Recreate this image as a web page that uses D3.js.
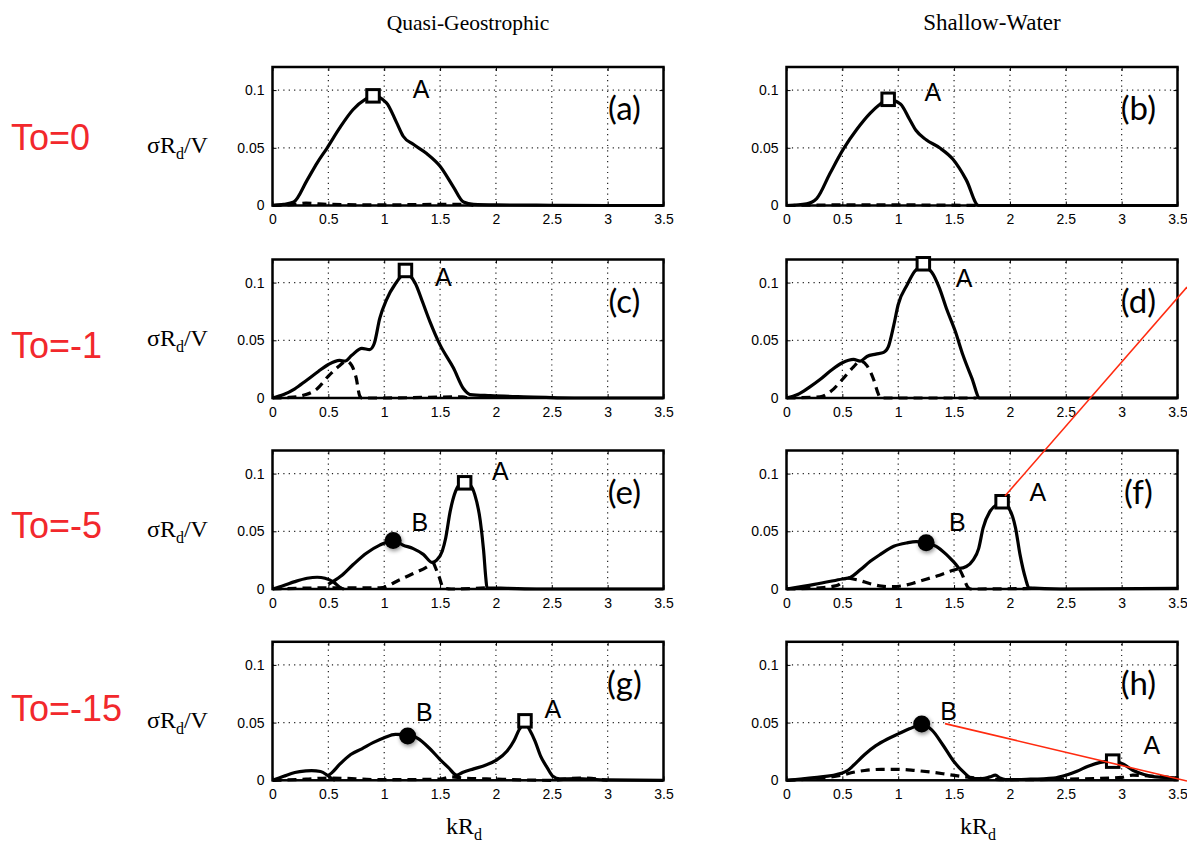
<!DOCTYPE html>
<html><head><meta charset="utf-8">
<script src="https://cdn.jsdelivr.net/npm/d3@7"></script>
<style>body{margin:0;background:#fff}svg{display:block}</style>
</head><body><svg id="c" width="1187" height="851"></svg>
<script>
// ---------- data ----------
const kTicks = [0, 0.5, 1, 1.5, 2, 2.5, 3, 3.5];
const kTickLabels = ["0", "0.5", "1", "1.5", "2", "2.5", "3", "3.5"];
const sigmaTicks = [0, 0.05, 0.1];
const sigmaTickLabels = ["0", "0.05", "0.1"];
const columnTitles = ["Quasi-Geostrophic", "Shallow-Water"];
const rowLabels = ["To=0", "To=-1", "To=-5", "To=-15"];
const panelLetters = ["(a)", "(b)", "(c)", "(d)", "(e)", "(f)", "(g)", "(h)"];

const solid_a = [[0,0],[0.1,0.001],[0.19,0.003],[0.31,0.022],[0.4,0.037],[0.49,0.05],[0.6,0.067],[0.72,0.083],[0.83,0.092],[0.9,0.095],[1.02,0.089],[1.11,0.072],[1.17,0.06],[1.26,0.053],[1.38,0.045],[1.5,0.034],[1.62,0.016],[1.71,0.003],[1.8,0.001],[2.0,0.0005],[2.5,0.0002],[3.0,0],[3.5,0]];
const dashed_a = [[0,0],[0.2,0.001],[0.3,0.002],[0.5,0.001],[1.0,0.0005],[1.5,0.001],[1.75,0.001],[1.8,0]];
const solid_b = [[0,0],[0.18,0.0015],[0.27,0.006],[0.39,0.028],[0.51,0.049],[0.63,0.066],[0.75,0.08],[0.84,0.088],[0.91,0.092],[1.02,0.088],[1.1,0.075],[1.16,0.065],[1.25,0.057],[1.37,0.05],[1.49,0.04],[1.61,0.022],[1.72,0],[2.5,0],[3.5,0]];
const dashed_b = [[0,0],[0.5,0.0005],[1.0,0.0005],[1.72,0]];
const solid_c = [[0,0],[0.1,0.003],[0.2,0.008],[0.3,0.015],[0.41,0.023],[0.5,0.029],[0.6,0.0326],[0.65,0.032],[0.71,0.037],[0.8,0.043],[0.87,0.042],[0.91,0.047],[0.96,0.069],[1.02,0.085],[1.1,0.099],[1.19,0.108],[1.28,0.099],[1.34,0.084],[1.41,0.066],[1.5,0.046],[1.62,0.026],[1.71,0.008],[1.77,0.003],[1.95,0.002],[2.25,0.001],[2.7,0],[3.5,0]];
const dashed_c = [[0,0],[0.15,0.0005],[0.3,0.003],[0.4,0.008],[0.5,0.019],[0.6,0.028],[0.66,0.032],[0.71,0.028],[0.75,0.017],[0.78,0.002],[0.8,0],[1.0,0],[1.7,0.001],[1.75,0]];
const solid_d = [[0,0],[0.1,0.003],[0.2,0.009],[0.3,0.016],[0.4,0.024],[0.5,0.0305],[0.6,0.0334],[0.66,0.032],[0.72,0.036],[0.8,0.038],[0.87,0.0395],[0.91,0.044],[0.96,0.063],[1.0,0.081],[1.08,0.098],[1.15,0.11],[1.22,0.114],[1.3,0.109],[1.37,0.095],[1.43,0.078],[1.51,0.058],[1.58,0.037],[1.66,0.017],[1.73,0],[2.5,0],[3.5,0]];
const dashed_d = [[0,0],[0.3,0.001],[0.4,0.006],[0.5,0.016],[0.6,0.027],[0.66,0.032],[0.72,0.028],[0.78,0.016],[0.82,0.004],[0.84,0],[1.7,0]];
const solid_e = [[0,0],[0.1,0.003],[0.2,0.0064],[0.31,0.0093],[0.4,0.0102],[0.47,0.0093],[0.55,0.0058],[0.61,0.001],[0.64,0], null,
  [0.5,0.004],[0.61,0.011],[0.72,0.021],[0.84,0.031],[0.96,0.038],[1.08,0.042],[1.17,0.038],[1.26,0.035],[1.35,0.03],[1.43,0.023],[1.47,0.025],[1.52,0.033],[1.55,0.044],[1.59,0.067],[1.64,0.085],[1.68,0.091],[1.72,0.092],[1.77,0.09],[1.81,0.082],[1.86,0.059],[1.89,0.033],[1.91,0.009],[1.92,0.001],[2.1,0.0006],[2.4,0],[3.5,0]];
const dashed_e = [[0,0],[0.5,0.001],[0.9,0.001],[0.96,0.001],[1.14,0.008],[1.25,0.013],[1.38,0.019],[1.44,0.023], null,
  [1.44,0.023],[1.49,0.011],[1.53,0.001],[1.6,0],[1.92,0.001]];
const solid_f = [[0,0],[0.25,0.004],[0.5,0.0087],[0.57,0.01],[0.66,0.0166],[0.75,0.024],[0.84,0.03],[0.96,0.037],[1.08,0.04],[1.16,0.041],[1.25,0.04],[1.34,0.037],[1.43,0.03],[1.51,0.022],[1.55,0.018],[1.61,0.0195],[1.67,0.025],[1.72,0.035],[1.76,0.053],[1.82,0.067],[1.88,0.073],[1.93,0.0745],[1.99,0.07],[2.05,0.053],[2.09,0.03],[2.14,0.009],[2.17,0.001],[2.45,0],[3.5,0.0005]];
const dashed_f = [[0,0],[0.3,0.001],[0.45,0.003],[0.52,0.008], null,
  [0.55,0.0095],[0.65,0.0075],[0.75,0.0045],[0.85,0.0025],[0.95,0.002],[1.05,0.003],[1.15,0.0055],[1.25,0.0085],[1.37,0.012],[1.47,0.0155],[1.55,0.018], null,
  [1.55,0.017],[1.58,0.011],[1.6,0.006],[1.62,0.002],[1.65,0],[2.2,0.0005]];
const solid_g = [[0,0],[0.1,0.0035],[0.2,0.0067],[0.3,0.0081],[0.35,0.0084],[0.43,0.0076],[0.49,0.0044],[0.53,0.0015],[0.56,0], null,
  [0.49,0.0035],[0.53,0.0064],[0.6,0.0137],[0.7,0.0224],[0.8,0.0273],[0.9,0.0326],[1.0,0.0369],[1.1,0.0398],[1.21,0.0395],[1.3,0.0363],[1.4,0.0282],[1.5,0.018],[1.575,0.011],[1.65,0.0044],[1.7,0.0067],[1.8,0.0099],[1.9,0.0128],[2.0,0.0172],[2.1,0.0253],[2.16,0.034],[2.21,0.0442],[2.26,0.05],[2.3,0.044],[2.35,0.034],[2.4,0.021],[2.46,0.0108],[2.51,0.0035],[2.57,0.0012],[2.72,0.0015],[2.99,0.0003],[3.5,0]];
const dashed_g = [[0,0],[0.3,0.001],[0.5,0.002],[1.0,0.0005],[1.5,0.001],[1.6,0.003],[1.7,0.002],[2.0,0.001],[2.5,0],[2.75,0.002],[3.0,0]];
const solid_h = [[0,0],[0.25,0.0023],[0.5,0.0064],[0.55,0.0087],[0.6,0.013],[0.7,0.0224],[0.8,0.03],[0.9,0.0356],[1.0,0.0402],[1.1,0.0446],[1.21,0.048],[1.3,0.0437],[1.4,0.0306],[1.5,0.016],[1.6,0.0058],[1.66,0.0015],[1.75,0.0015],[1.82,0.003],[1.87,0.0044],[1.91,0.002],[1.96,0.0006],[2.15,0.0009],[2.39,0.002],[2.5,0.0044],[2.6,0.0079],[2.7,0.0122],[2.81,0.0155],[2.92,0.0166],[3.02,0.0137],[3.1,0.0087],[3.2,0.005],[3.3,0.0029],[3.5,0.002]];
const dashed_h = [[0,0],[0.25,0.0015],[0.5,0.0045],[0.6,0.007],[0.7,0.0085],[0.85,0.0095],[1.0,0.0095],[1.15,0.0085],[1.3,0.007],[1.45,0.005],[1.6,0.003],[1.75,0.0015],[2.0,0.0005],[2.5,0.001],[2.75,0.0015],[3.0,0.0025],[3.1,0.0045],[3.2,0.004],[3.5,0.002]];

const solidSeries = [solid_a, solid_b, solid_c, solid_d, solid_e, solid_f, solid_g, solid_h];
const dashedSeries = [dashed_a, dashed_b, dashed_c, dashed_d, dashed_e, dashed_f, dashed_g, dashed_h];

// mode A (square) and mode B (filled circle) maxima, per panel
const markerA = [[0.9,0.095],[0.91,0.092],[1.19,0.1105],[1.225,0.1163],[1.72,0.092],[1.93,0.0756],[2.26,0.0515],[2.92,0.0166]];
const markerB = [null,null,null,null,[1.08,0.042],[1.25,0.04],[1.21,0.0384],[1.21,0.0487]];
// text positions of letters "A" / "B" in data units
const labelA = [[1.33,0.101],[1.31,0.098],[1.53,0.105],[1.59,0.104],[2.04,0.102],[2.25,0.084],[2.51,0.062],[3.27,0.031]];
const labelB = [null,null,null,null,[1.32,0.0577],[1.53,0.058],[1.36,0.059],[1.45,0.060]];
// red annotation lines (panel index, from, to) in that panel's data units
const redLines = [
  {panel: 5, from: [1.956, 0.0806], to: [3.585, 0.2617]},
  {panel: 7, from: [1.419, 0.0491], to: [3.585, -0.0006]}
];

// ---------- layout ----------
const colLeft = [272.5, 786.5];
const rowTop = [67, 259.5, 450.5, 641.8];
const plotW = 391, plotH = 138.5;
const rowLabelBase = [150, 358, 538, 721];
const titleX = [468, 992];
const titleSize = [21.5, 23];

const svg = d3.select("#c");
const defs = svg.append("defs");
const f = defs.append("filter").attr("id","sh").attr("x","-50%").attr("y","-50%").attr("width","200%").attr("height","200%");
f.append("feGaussianBlur").attr("in","SourceAlpha").attr("stdDeviation",2.2).attr("result","b");
f.append("feOffset").attr("in","b").attr("dx",0.5).attr("dy",2).attr("result","o");
f.append("feComponentTransfer").attr("in","o").attr("result","o2").append("feFuncA").attr("type","linear").attr("slope",0.45);
const fm = f.append("feMerge"); fm.append("feMergeNode").attr("in","o2"); fm.append("feMergeNode").attr("in","SourceGraphic");

const serif = "'Liberation Serif','Times New Roman',serif";
const sans = "'Liberation Sans',Arial,Helvetica,sans-serif";
const tickFont = "'Liberation Sans',Arial,sans-serif";

// column titles
columnTitles.forEach((t, c) => {
  svg.append("text").attr("x", titleX[c]).attr("y", 30)
    .attr("text-anchor", "middle").style("font-family", serif).style("font-size", titleSize[c] + "px").text(t);
});

// row labels
rowLabels.forEach((t, r) => {
  svg.append("text").attr("x", 11).attr("y", rowLabelBase[r])
    .style("font-family", sans).style("font-size", "36px").attr("fill", "#f2282c").text(t);
  const yl = svg.append("text").attr("x", 147).attr("y", rowTop[r] + plotH / 2 + 17)
    .style("font-family", serif).style("font-size", "24px");
  yl.append("tspan").text("σR");
  yl.append("tspan").attr("dy", 6).style("font-size", "16px").text("d");
  yl.append("tspan").attr("dy", -6).text("/V");
});

const panels = [];
for (let i = 0; i < 8; i++) {
  const r = Math.floor(i / 2), c = i % 2;
  const x0 = colLeft[c], y0 = rowTop[r];
  const x = d3.scaleLinear().domain([0, 3.5]).range([x0, x0 + plotW]);
  const y = d3.scaleLinear().domain([0, 0.12]).range([y0 + plotH, y0]);
  panels.push({x, y});
  const g = svg.append("g");

  // grid
  g.selectAll(".gx").data(kTicks.slice(1, -1)).enter().append("line")
    .attr("x1", d => x(d)).attr("x2", d => x(d)).attr("y1", y(0)).attr("y2", y(0.12))
    .attr("stroke", "#222").attr("stroke-width", 1.2).attr("stroke-dasharray", "1.2,4.2");
  g.selectAll(".gy").data(sigmaTicks.slice(1)).enter().append("line")
    .attr("x1", x(0)).attr("x2", x(3.5)).attr("y1", d => y(d)).attr("y2", d => y(d))
    .attr("stroke", "#222").attr("stroke-width", 1.2).attr("stroke-dasharray", "1.2,4.2");

  // axes (ticks inward)
  const xb = d3.axisBottom(x).tickValues(kTicks).tickFormat((d, j) => kTickLabels[j]).tickSizeInner(-4).tickSizeOuter(0).tickPadding(9);
  g.append("g").attr("transform", `translate(0,${y(0)})`).call(xb);
  const xt = d3.axisTop(x).tickValues(kTicks).tickFormat("").tickSizeInner(-4).tickSizeOuter(0);
  g.append("g").attr("transform", `translate(0,${y(0.12)})`).call(xt);
  const yl = d3.axisLeft(y).tickValues(sigmaTicks).tickFormat((d, j) => sigmaTickLabels[j]).tickSizeInner(-4).tickSizeOuter(0).tickPadding(8);
  g.append("g").attr("transform", `translate(${x(0)},0)`).call(yl);
  const yr = d3.axisRight(y).tickValues(sigmaTicks).tickFormat("").tickSizeInner(-4).tickSizeOuter(0);
  g.append("g").attr("transform", `translate(${x(3.5)},0)`).call(yr);
  g.selectAll(".domain").remove();
  g.selectAll(".tick line").attr("stroke", "#000").attr("stroke-width", 1);
  g.selectAll(".tick text").style("font-family", tickFont).style("font-size", "14px").attr("fill", "#000");

  const line = d3.line().defined(d => d !== null).x(d => x(d[0])).y(d => y(d[1])).curve(d3.curveMonotoneX);

  g.append("path").datum(dashedSeries[i]).attr("d", line).attr("fill", "none")
    .attr("stroke", "#000").attr("stroke-width", 3.2).attr("stroke-dasharray", "9,6");
  g.append("path").datum(solidSeries[i]).attr("d", line).attr("fill", "none")
    .attr("stroke", "#000").attr("stroke-width", 3.2).attr("stroke-linejoin", "round");

  // frame
  g.append("rect").attr("x", x(0)).attr("y", y(0.12)).attr("width", plotW).attr("height", plotH)
    .attr("fill", "none").attr("stroke", "#000").attr("stroke-width", 2.5);

  // markers
  if (markerB[i]) {
    g.append("circle").attr("cx", x(markerB[i][0])).attr("cy", y(markerB[i][1])).attr("r", 8.5)
      .attr("fill", "#000").attr("filter", "url(#sh)");
  }
  const s = 12.5;
  g.append("rect").attr("x", x(markerA[i][0]) - s / 2).attr("y", y(markerA[i][1]) - s / 2)
    .attr("width", s).attr("height", s).attr("fill", "#fff").attr("stroke", "#000").attr("stroke-width", 3);

  // letters
  g.append("text").attr("x", x(labelA[i][0])).attr("y", y(labelA[i][1]))
    .attr("text-anchor", "middle").attr("dominant-baseline", "central")
    .style("font-family", sans).style("font-size", "25px").text("A");
  if (labelB[i]) {
    g.append("text").attr("x", x(labelB[i][0])).attr("y", y(labelB[i][1]))
      .attr("text-anchor", "middle").attr("dominant-baseline", "central")
      .style("font-family", sans).style("font-size", "25px").text("B");
  }
  g.append("text").attr("x", x(3.15)).attr("y", y(0.085))
    .attr("text-anchor", "middle").attr("dominant-baseline", "central")
    .style("font-family", "Lato,'Open Sans',sans-serif").style("font-size", "33px").text(panelLetters[i]);
}

// x labels
colLeft.forEach(cl => {
  const t = svg.append("text").attr("x", cl + plotW / 2 - 4).attr("y", 834)
    .attr("text-anchor", "middle").style("font-family", serif).style("font-size", "24px");
  t.append("tspan").text("kR");
  t.append("tspan").attr("dy", 6).style("font-size", "16px").text("d");
});

// red annotation lines
redLines.forEach(l => {
  const p = panels[l.panel];
  svg.append("line").attr("x1", p.x(l.from[0])).attr("y1", p.y(l.from[1]))
    .attr("x2", p.x(l.to[0])).attr("y2", p.y(l.to[1]))
    .attr("stroke", "#ff2a0f").attr("stroke-width", 1.6);
});
</script></body></html>
